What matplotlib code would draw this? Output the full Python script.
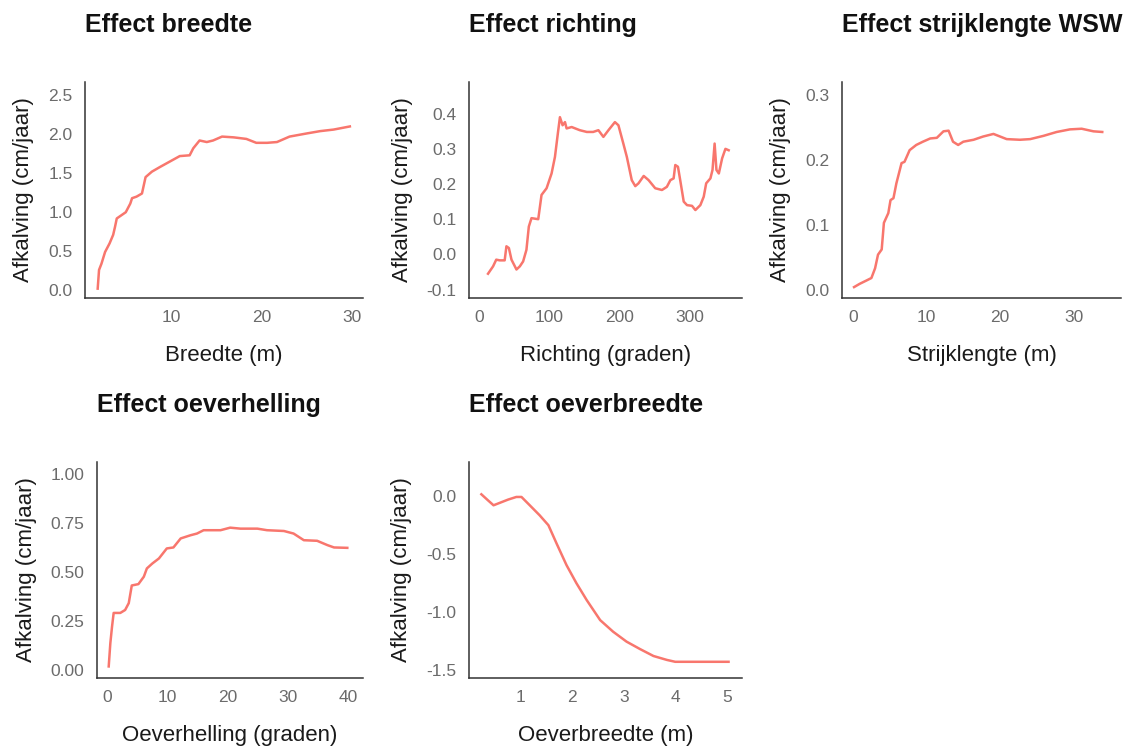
import matplotlib
matplotlib.use("Agg")
import matplotlib.pyplot as plt
from matplotlib.ticker import FixedLocator, FormatStrFormatter

plt.rcParams['font.family'] = ['Liberation Sans', 'DejaVu Sans']
plt.rcParams['axes.unicode_minus'] = False

LINE_COLOR = "#F8766D"
YLABEL = "Afkalving (cm/jaar)"

# ---- data ----
breedte_x = [1.78, 1.93, 2.2, 2.6, 3.1, 3.5, 3.7, 3.9, 4.4, 4.9, 5.4, 5.6, 6.1, 6.7, 7.1, 7.8,
             8.7, 9.8, 10.9, 12.0, 12.4, 13.1, 13.9, 14.6, 15.6, 16.9, 18.3, 19.4, 20.6, 21.7,
             23.1, 25.0, 26.5, 28.0, 29.8]
breedte_y = [0.02, 0.26, 0.34, 0.49, 0.60, 0.71, 0.81, 0.92, 0.96, 1.00, 1.11, 1.18, 1.20, 1.24,
             1.45, 1.52, 1.58, 1.65, 1.72, 1.73, 1.82, 1.92, 1.90, 1.92, 1.97, 1.96, 1.94, 1.89,
             1.89, 1.90, 1.97, 2.01, 2.04, 2.06, 2.10]

richting_x = [13.3, 15.7, 20.5, 25, 30, 37, 39.5, 43, 46.7, 53.8, 58.6, 63.3, 68, 71.4, 75.2, 84.8,
              89.5, 96.7, 103.8, 108.6, 113, 115.7, 119.5, 122.9, 125.2, 132.4, 144, 154, 163,
              170.5, 177.6, 184.8, 194, 199, 206, 211, 218, 223, 227.6, 235, 242, 251.4, 261,
              268, 273, 277.6, 280, 283.8, 287, 292, 296.7, 303.8, 308.6, 315.7, 320.5, 324,
              330, 333, 336, 338.6, 342, 346.7, 351.4, 356]
richting_y = [-0.055, -0.048, -0.034, -0.015, -0.017, -0.017, 0.023, 0.018, -0.015, -0.043, -0.034,
              -0.02, 0.013, 0.079, 0.103, 0.100, 0.169, 0.188, 0.23, 0.277, 0.348, 0.39, 0.367,
              0.376, 0.358, 0.362, 0.353, 0.348, 0.348, 0.353, 0.334, 0.353, 0.376, 0.367, 0.315,
              0.277, 0.211, 0.194, 0.202, 0.223, 0.211, 0.188, 0.183, 0.192, 0.211, 0.216, 0.254,
              0.249, 0.211, 0.15, 0.14, 0.138, 0.126, 0.14, 0.164, 0.202, 0.216, 0.24, 0.315,
              0.24, 0.23, 0.273, 0.30, 0.296]

strijk_x = [0.14, 0.9, 1.8, 2.5, 3.0, 3.4, 3.9, 4.2, 4.8, 5.1, 5.5, 5.9, 6.6, 7.0, 7.7, 8.6, 9.5,
            10.5, 11.4, 12.3, 13.0, 13.6, 14.3, 15.0, 16.4, 17.7, 19.1, 20.9, 22.7, 24.1, 25.9,
            27.7, 29.5, 31.1, 32.7, 33.9]
strijk_y = [0.004, 0.009, 0.014, 0.018, 0.033, 0.054, 0.062, 0.103, 0.118, 0.138, 0.141, 0.164,
            0.195, 0.197, 0.215, 0.223, 0.228, 0.233, 0.234, 0.244, 0.245, 0.228, 0.223, 0.228,
            0.231, 0.236, 0.240, 0.232, 0.231, 0.232, 0.237, 0.243, 0.247, 0.248, 0.244, 0.243]

helling_x = [0.28, 0.55, 0.83, 1.1, 2.2, 3.0, 3.6, 4.1, 5.2, 6.1, 6.6, 7.5, 8.6, 9.9, 11.0, 12.2,
             13.8, 14.9, 16.0, 18.8, 20.4, 22.1, 24.9, 26.5, 29.3, 30.9, 32.6, 34.8, 36.5, 37.6,
             39.8]
helling_y = [0.017, 0.136, 0.22, 0.29, 0.29, 0.305, 0.34, 0.43, 0.437, 0.475, 0.517, 0.542, 0.568,
             0.619, 0.624, 0.67, 0.686, 0.695, 0.712, 0.712, 0.725, 0.72, 0.72, 0.712, 0.708,
             0.695, 0.661, 0.658, 0.636, 0.624, 0.622]

oeverb_x = [0.245, 0.37, 0.48, 0.6, 0.76, 0.92, 1.02, 1.18, 1.37, 1.54, 1.70, 1.89, 2.08, 2.28,
            2.54, 2.79, 3.05, 3.31, 3.57, 3.83, 3.99, 4.41, 5.02]
oeverb_y = [0.017, -0.034, -0.078, -0.057, -0.029, -0.006, -0.006, -0.078, -0.164, -0.25, -0.41,
            -0.595, -0.75, -0.897, -1.07, -1.17, -1.256, -1.32, -1.38, -1.414, -1.43, -1.43, -1.43]

panels = [
    dict(title="Effect breedte", xlabel="Breedte (m)", x=breedte_x, y=breedte_y,
         xticks=[10, 20, 30], yticks=[0.0, 0.5, 1.0, 1.5, 2.0, 2.5], yfmt="%.1f",
         xlim=(0.37, 31.26), ylim=(-0.10, 2.67), rect=(85, 82, 363, 298)),
    dict(title="Effect richting", xlabel="Richting (graden)", x=richting_x, y=richting_y,
         xticks=[0, 100, 200, 300], yticks=[-0.1, 0.0, 0.1, 0.2, 0.3, 0.4], yfmt="%.1f",
         xlim=(-13.8, 375), ylim=(-0.124, 0.49), rect=(469, 82, 742, 298)),
    dict(title="Effect strijklengte WSW", xlabel="Strijklengte (m)", x=strijk_x, y=strijk_y,
         xticks=[0, 10, 20, 30], yticks=[0.0, 0.1, 0.2, 0.3], yfmt="%.1f",
         xlim=(-1.5, 36.45), ylim=(-0.0128, 0.32), rect=(842, 82, 1121, 298)),
    dict(title="Effect oeverhelling", xlabel="Oeverhelling (graden)", x=helling_x, y=helling_y,
         xticks=[0, 10, 20, 30, 40], yticks=[0.0, 0.25, 0.5, 0.75, 1.0], yfmt="%.2f",
         xlim=(-1.66, 42.4), ylim=(-0.042, 1.06), rect=(97, 462, 363, 678)),
    dict(title="Effect oeverbreedte", xlabel="Oeverbreedte (m)", x=oeverb_x, y=oeverb_y,
         xticks=[1, 2, 3, 4, 5], yticks=[-1.5, -1.0, -0.5, 0.0], yfmt="%.1f",
         xlim=(0.006, 5.28), ylim=(-1.57, 0.296), rect=(469, 462, 742, 678)),
]

W, H = 1136, 751
fig = plt.figure(figsize=(W / 100, H / 100), dpi=100)
fig.patch.set_facecolor("white")

for p in panels:
    x0, y0, x1, y1 = p["rect"]
    ax = fig.add_axes([x0 / W, 1 - y1 / H, (x1 - x0) / W, (y1 - y0) / H])
    ax.plot(p["x"], p["y"], color=LINE_COLOR, lw=1.8, solid_joinstyle="round")
    ax.set_xlim(*p["xlim"])
    ax.set_ylim(*p["ylim"])
    ax.xaxis.set_major_locator(FixedLocator(p["xticks"]))
    ax.yaxis.set_major_locator(FixedLocator(p["yticks"]))
    ax.yaxis.set_major_formatter(FormatStrFormatter(p["yfmt"]))
    for s in ("top", "right"):
        ax.spines[s].set_visible(False)
    for s in ("left", "bottom"):
        ax.spines[s].set_color("#333333")
        ax.spines[s].set_linewidth(1.1)
    ax.tick_params(length=0, labelsize=12.5, labelcolor="#6b6b6b", pad=9)
    ax.set_xlabel(p["xlabel"], fontsize=16, color="#1a1a1a", labelpad=14)
    ax.set_ylabel(YLABEL, fontsize=16, color="#1a1a1a", labelpad=10)
    ax.set_title(p["title"], loc="left", fontsize=18, fontweight="bold", pad=36, color="#111111")

fig.savefig("out.png", dpi=100, facecolor="white")
